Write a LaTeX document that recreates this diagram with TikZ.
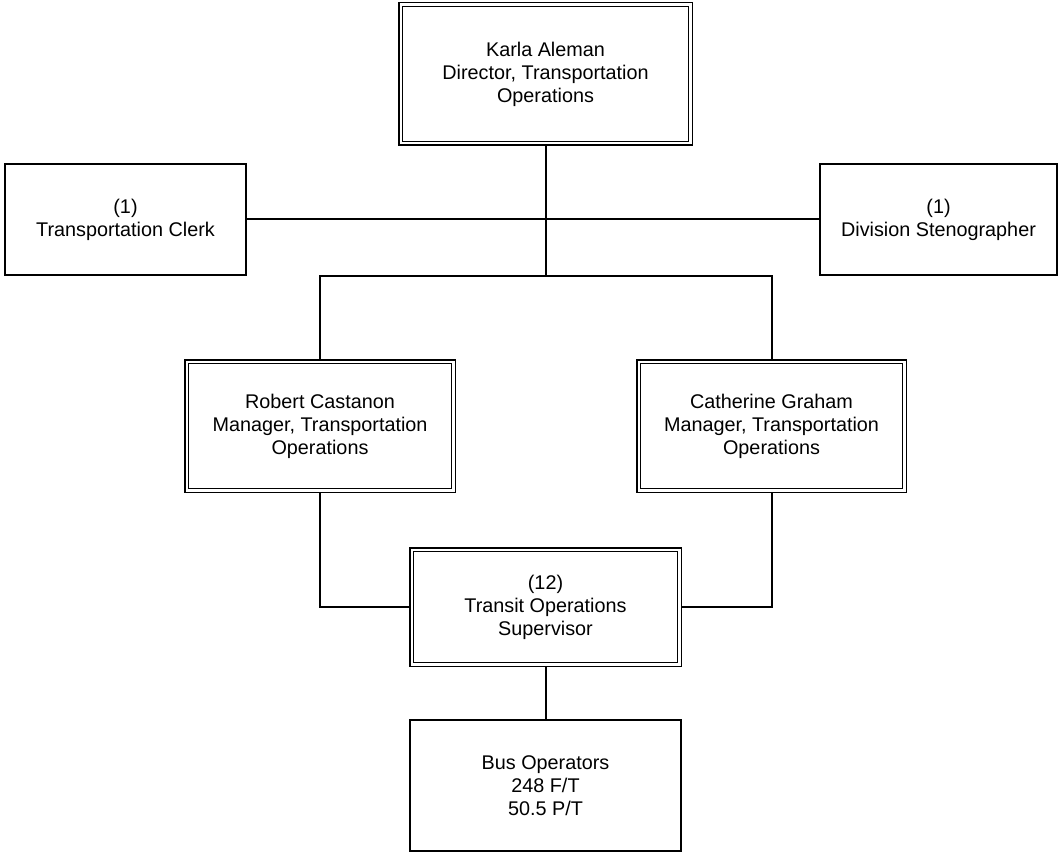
\documentclass[tikz,border=0pt]{standalone}
\usepackage{fontspec}
\setmainfont{Liberation Sans}
\usepackage{tikz}
\usetikzlibrary{positioning, calc}
\tikzset{
  post/.style={
    rectangle, draw=black, line width=2pt, fill=white,
    inner sep=0pt, align=center,
    font=\fontsize{19.8}{23}\selectfont
  },
  postD/.style={
    post, double, double distance=2.2pt, line width=1.5pt,
    outer sep=2.6pt
  },
  link/.style={line width=2pt, line cap=rect}
}

\begin{document}
\begin{tikzpicture}[x=1pt, y=1pt]
    \useasboundingbox (0,0) rectangle (1061,-853);

    %% ---- TOP: director and staff --------------------------------
    \node[postD, minimum width=289.8pt, minimum height=138.8pt]
      (karla) at (545.5,-74)
      {Karla Aleman\\Director, Transportation\\Operations};

    \node[post, minimum width=241pt, minimum height=111pt]
      (clerk) at (125.5,-219.5) {(1)\\Transportation Clerk};
    \node[post, minimum width=237pt, minimum height=111pt]
      (steno) at (938.5,-219.5) {(1)\\Division Stenographer};

    %% ---- MIDDLE: managers ---------------------------------------
    \node[postD, minimum width=266.8pt, minimum height=128.8pt]
      (robert) at (320,-426)
      {Robert Castanon\\Manager, Transportation\\Operations};
    \node[postD, minimum width=265.8pt, minimum height=128.8pt]
      (cath) at (771.5,-426)
      {Catherine Graham\\Manager, Transportation\\Operations};

    %% ---- BOTTOM: supervisors and operators ----------------------
    \node[postD, minimum width=267.8pt, minimum height=114.8pt]
      (super) at (545.5,-607)
      {(12)\\Transit Operations\\Supervisor};
    \node[post, minimum width=271pt, minimum height=131pt,
          below=52pt of super]
      (bus) {Bus Operators\\248 F/T\\50.5 P/T};

    %% ---- connectors ---------------------------------------------
    \coordinate (hub) at (545.5,-276);
    \draw[link] (karla.south) -- (hub);
    \draw[link] (clerk.east) -- (steno.west);
    \draw[link] (robert.north) |- (hub) -| (cath.north);
    \draw[link] (robert.south) |- (super.west);
    \draw[link] (cath.south) |- (super.east);
    \draw[link] (super.south) -- (bus.north);

  \end{tikzpicture}
\end{document}
